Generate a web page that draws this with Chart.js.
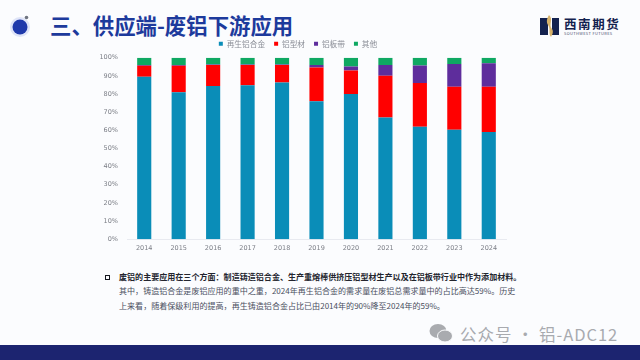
<!DOCTYPE html>
<html>
<head>
<meta charset="utf-8">
<script src="https://cdn.jsdelivr.net/npm/chart.js@4"></script>
<style>
  html, body { margin: 0; padding: 0; }
  body { width: 640px; height: 360px; overflow: hidden; position: relative; background: #fbfcfe; font-family: "Noto Sans CJK SC", sans-serif; }
  .abs { position: absolute; white-space: nowrap; }
  #wrap { position: absolute; left: 90px; top: 31px; width: 444px; height: 226px; }
  #title { left: 50px; top: 10px; font-size: 21.4px; line-height: 30px; font-weight: 700; color: #1d3a9c; }
  .line { left: 119px; font-size: 8.05px; line-height: 14px; color: #4a4f60; }
  #footer { left: 0; top: 345px; width: 640px; height: 15px; background: #1c2470; }
  #mark { left: 460px; top: 322px; font-size: 16.5px; line-height: 24px; color: #a8aaaf; letter-spacing: 0.95px; }
</style>
</head>
<body>
<svg class="abs" style="left:0;top:0" width="640" height="60">
  <circle cx="20" cy="27" r="10" fill="#dfe4f8"/>
  <circle cx="20" cy="27" r="7.5" fill="#1f39ab"/>
  <circle cx="26.5" cy="17.5" r="1.8" fill="#6f7480"/>
  <rect x="540" y="18" width="8" height="17" fill="#14224f"/>
  <rect x="552" y="18" width="7" height="17" fill="#14224f"/>
  <path d="M549 15 C554 20 548 24 552 29 C554 32 552 35 551 37 C548 33 551 29 548 25 C546 22 547 18 549 15 Z" fill="#d8b36a"/>
</svg>
<div class="abs" style="left:564px;top:16px;font-size:12.5px;line-height:16px;font-weight:700;color:#14224f;letter-spacing:1.6px">西南期货</div>
<div class="abs" style="left:564px;top:31px;font-size:4px;line-height:5px;color:#4a5170;letter-spacing:.35px">SOUTHWEST FUTURES</div>
<div id="title" class="abs">三、供应端-废铝下游应用</div>
<div id="wrap"><canvas id="mixChart"></canvas></div>

<div class="abs" style="left:105px;top:275px;width:2.6px;height:2.6px;border:1.2px solid #15171f"></div>
<div class="abs line" style="top:270px;font-weight:700;color:#23252e">废铝的主要应用在三个方面：制造铸造铝合金、生产重熔棒供挤压铝型材生产以及在铝板带行业中作为添加材料。</div>
<div class="abs line" style="top:284px">其中，铸造铝合金是废铝应用的重中之重，2024年再生铝合金的需求量在废铝总需求量中的占比高达59%。历史</div>
<div class="abs line" style="top:299px">上来看，随着保级利用的提高，再生铸造铝合金占比已由2014年的90%降至2024年的59%。</div>

<svg class="abs" style="left:428px;top:322px" width="28" height="22">
  <ellipse cx="10" cy="9" rx="8.5" ry="7" fill="#a9abaf"/>
  <ellipse cx="17" cy="14" rx="7.5" ry="6" fill="#a9abaf" stroke="#fbfcfe" stroke-width="1"/>
</svg>
<div id="mark" class="abs">公众号 · 铝-ADC12</div>
<div id="footer" class="abs"></div>

<script>
const years = ['2014','2015','2016','2017','2018','2019','2020','2021','2022','2023','2024'];
const recycled = [89.5, 81, 84.4, 84.8, 86.3, 76, 80, 67, 62, 60.3, 59];
const profile = [6, 14.5, 11.6, 11.2, 9.7, 18.6, 13, 23, 24, 23.7, 25];
const sheet = [0.5, 0.5, 0.3, 0.3, 0.3, 1.4, 2.2, 6, 9.7, 12.5, 13];
const other = [4, 4, 3.7, 3.7, 3.7, 4, 4.8, 4, 4.3, 3.5, 3];

new Chart(document.getElementById('mixChart'), {
  type: 'bar',
  data: {
    labels: years,
    datasets: [
      { label: '再生铝合金', data: recycled, backgroundColor: '#0a8db8' },
      { label: '铝型材', data: profile, backgroundColor: '#ff0000' },
      { label: '铝板带', data: sheet, backgroundColor: '#5e2d9c' },
      { label: '其他', data: other, backgroundColor: '#0fa862' }
    ]
  },
  options: {
    responsive: true,
    maintainAspectRatio: false,
    animation: false,
    layout: { padding: { left: 0, right: 28, top: 0, bottom: 0 } },
    datasets: { bar: { barPercentage: 1, categoryPercentage: 0.41 } },
    plugins: {
      tooltip: { enabled: false },
      legend: {
        position: 'top',
        labels: {
          usePointStyle: true,
          pointStyle: 'rect',
          boxWidth: 4,
          boxHeight: 4,
          padding: 9,
          color: '#8a8d96',
          font: { size: 7.7, family: '"Noto Sans CJK SC"' }
        }
      }
    },
    scales: {
      x: {
        stacked: true,
        grid: { display: false, drawTicks: false },
        border: { color: '#e8eaf0' },
        ticks: { color: '#7b7e86', font: { size: 6.5, family: '"DejaVu Sans"' }, padding: 5, maxRotation: 0 }
      },
      y: {
        stacked: true,
        min: 0,
        max: 100,
        afterFit: axis => { axis.width = 37; },
        grid: { display: false, drawTicks: false },
        border: { display: false },
        ticks: { stepSize: 10, color: '#7b7e86', font: { size: 6.5, family: '"DejaVu Sans"' }, padding: 9, callback: v => v + '%' }
      }
    }
  }
});
</script>
</body>
</html>
